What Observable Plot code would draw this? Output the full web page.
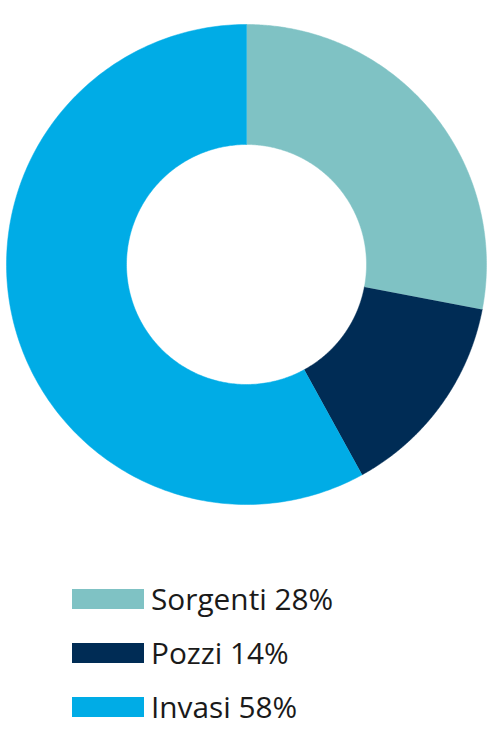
<!DOCTYPE html>
<html>
<head>
<meta charset="utf-8">
<script src="https://cdn.jsdelivr.net/npm/d3@7"></script>
<script src="https://cdn.jsdelivr.net/npm/@observablehq/plot@0.6"></script>
<style>
  html, body { margin: 0; padding: 0; background: #fff; }
  body { width: 501px; font-family: "Open Sans", sans-serif; }
  #legend { padding-top: 44px; padding-left: 72px; }
  .row { display: flex; align-items: center; height: 54px; }
  .sw { width: 72px; height: 20px; margin-right: 7px; flex: none; }
  .lbl { font-size: 29.8px; color: #1a1a1a; white-space: nowrap; line-height: 1.3; }
</style>
</head>
<body>
<div id="chart"></div>
<div id="legend"></div>
<script>
const categories = ["Sorgenti", "Pozzi", "Invasi"];
const values = [28, 14, 58];
const colors = ["#7fc2c4", "#002c55", "#00ace6"];

const innerRatio = 0.5;
const arcs = d3.pie().sort(null)(values);
const points = [];
arcs.forEach((a, i) => {
  const n = 240;
  const key = categories[i];
  for (let k = 0; k <= n; k++) {
    const t = a.startAngle + (a.endAngle - a.startAngle) * k / n;
    points.push({key, x: Math.sin(t), y: Math.cos(t)});
  }
  for (let k = n; k >= 0; k--) {
    const t = a.startAngle + (a.endAngle - a.startAngle) * k / n;
    points.push({key, x: innerRatio * Math.sin(t), y: innerRatio * Math.cos(t)});
  }
});

const chart = Plot.plot({
  width: 501,
  height: 528,
  marginLeft: 6,
  marginRight: 15,
  marginTop: 24,
  marginBottom: 24,
  x: {axis: null, domain: [-1, 1]},
  y: {axis: null, domain: [-1, 1]},
  color: {domain: categories, range: colors},
  marks: [
    Plot.line(points, {x: "x", y: "y", z: "key", fill: "key", stroke: "key", strokeWidth: 0.5, curve: "linear"})
  ]
});
document.getElementById("chart").appendChild(chart);

const legend = document.getElementById("legend");
categories.forEach((c, i) => {
  const row = document.createElement("div");
  row.className = "row";
  const sw = document.createElement("div");
  sw.className = "sw";
  sw.style.background = colors[i];
  const lbl = document.createElement("div");
  lbl.className = "lbl";
  lbl.textContent = `${c} ${values[i]}%`;
  row.appendChild(sw);
  row.appendChild(lbl);
  legend.appendChild(row);
});
</script>
</body>
</html>
